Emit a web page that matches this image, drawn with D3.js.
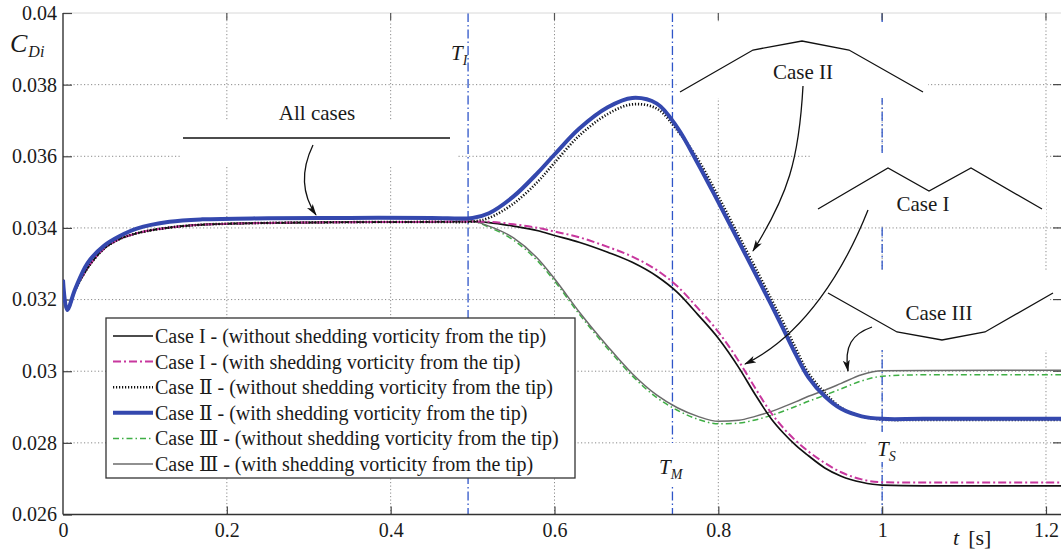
<!DOCTYPE html>
<html>
<head>
<meta charset="utf-8">
<script src="https://cdn.jsdelivr.net/npm/d3@7"></script>
<style>
  body { margin: 0; background: #fff; }
  svg { display: block; font-family: "Liberation Serif", "DejaVu Serif", serif; }
</style>
</head>
<body>
<svg id="chart"></svg>
<script>
// time grid [s] shared by every series
let tGrid = [0, 0.005, 0.015, 0.03, 0.05, 0.07, 0.09, 0.13, 0.17, 0.25, 0.35, 0.45, 0.5,
  0.52, 0.55, 0.58, 0.6, 0.63, 0.665, 0.695, 0.725, 0.75, 0.775, 0.8, 0.825, 0.845,
  0.865, 0.88, 0.895, 0.91, 0.93, 0.95, 0.975, 1.0, 1.05, 1.22]

// common start (all cases)
let startCommon = [0.03255, 0.03171, 0.03227, 0.03288, 0.03342, 0.03370, 0.03385, 0.03401,
  0.03409, 0.03414, 0.03416, 0.03417, 0.03418]
let startCase2 = [0.03255, 0.03171, 0.0323, 0.03302, 0.0335, 0.03378, 0.03398, 0.03417,
  0.03424, 0.03427, 0.03428, 0.03428, 0.03428]

let case1Without = startCommon.concat([0.03415, 0.03405, 0.03392, 0.03379, 0.03360, 0.03332,
  0.03304, 0.03265, 0.03220, 0.03158, 0.03092, 0.03010, 0.02935, 0.02866, 0.02826, 0.02792,
  0.02764, 0.02730, 0.02707, 0.02690, 0.02682, 0.02680, 0.02680])
let case1With = startCommon.concat([0.03417, 0.03410, 0.03400, 0.03390, 0.03374, 0.03347,
  0.03320, 0.03282, 0.03237, 0.03176, 0.03110, 0.03028, 0.02953, 0.02882, 0.02840, 0.02805,
  0.02776, 0.02744, 0.02718, 0.02698, 0.02690, 0.02689, 0.02689])
let case2Without = startCommon.concat([0.03428, 0.03468, 0.03530, 0.03582, 0.03657, 0.03718,
  0.03745, 0.03733, 0.03672, 0.03592, 0.03488, 0.03378, 0.03290, 0.03200, 0.03133, 0.03062,
  0.02995, 0.02940, 0.02898, 0.02874, 0.02865, 0.02864, 0.02864])
let case2With = startCase2.concat([0.03441, 0.03488, 0.03555, 0.03605, 0.03677, 0.03737,
  0.03763, 0.03747, 0.03680, 0.03580, 0.03472, 0.03362, 0.03273, 0.03184, 0.03115, 0.03045,
  0.02983, 0.02930, 0.02895, 0.02874, 0.02867, 0.02867, 0.02867])
let case3Without = startCommon.concat([0.03402, 0.03366, 0.03306, 0.03252, 0.03160, 0.03063,
  0.02987, 0.02926, 0.02891, 0.02866, 0.02853, 0.02855, 0.02864, 0.02877, 0.02889, 0.02902,
  0.02916, 0.02933, 0.02951, 0.02973, 0.02986, 0.02990, 0.02990])
let case3With = startCommon.concat([0.03405, 0.03372, 0.03313, 0.03258, 0.03166, 0.03069,
  0.02993, 0.02933, 0.02898, 0.02874, 0.02860, 0.02863, 0.02874, 0.02888, 0.02901, 0.02915,
  0.02930, 0.02947, 0.02966, 0.02990, 0.03001, 0.03002, 0.03003])

let legendLabels = [
  'Case I - (without shedding vorticity from the tip)',
  'Case I - (with shedding vorticity from the tip)',
  'Case Ⅱ - (without shedding vorticity from the tip)',
  'Case Ⅱ - (with shedding vorticity from the tip)',
  'Case Ⅲ - (without shedding vorticity from the tip)',
  'Case Ⅲ - (with shedding vorticity from the tip)'
]

let xTicks = [0, 0.2, 0.4, 0.6, 0.8, 1, 1.2]
let yTicks = [0.026, 0.028, 0.03, 0.032, 0.034, 0.036, 0.038, 0.04]

// T_I, T_M, T_S
let eventTimes = [0.4945, 0.744, 1.0]

let width = 1061
let height = 552
let pLeft = 63, pRight = 1064, pTop = 13, pBottom = 514.5

let svg = d3.select('#chart').attr('width', width).attr('height', height)

let xScale = d3.scaleLinear().domain([0, 1.222]).range([pLeft, pRight])
let yScale = d3.scaleLinear().domain([0.026, 0.04]).range([pBottom, pTop])

// grid
let grid = svg.append('g')
grid.selectAll('.gx').data(xTicks.slice(1)).enter().append('line')
  .attr('x1', d => xScale(d)).attr('x2', d => xScale(d))
  .attr('y1', pTop).attr('y2', pBottom)
  .attr('stroke', '#8a8a8a').attr('stroke-width', 1).attr('stroke-dasharray', '1.2,2.3')
grid.selectAll('.gy').data(yTicks.slice(1, -1)).enter().append('line')
  .attr('y1', d => yScale(d)).attr('y2', d => yScale(d))
  .attr('x1', pLeft).attr('x2', pRight)
  .attr('stroke', '#8a8a8a').attr('stroke-width', 1).attr('stroke-dasharray', '1.2,2.3')

// event lines
svg.selectAll('.tline').data(eventTimes).enter().append('line')
  .attr('x1', d => xScale(d)).attr('x2', d => xScale(d))
  .attr('y1', pTop).attr('y2', pBottom)
  .attr('stroke', '#2f55c8').attr('stroke-width', 1.3)
  .attr('stroke-dasharray', '9,3,1.5,3')

// white boxes behind annotations (cut the grid like the original)
let boxes = [[182, 120, 276, 45], [679, 22, 249, 76], [810, 153, 236, 72], [823, 272, 225, 78],
  [656, 443, 36, 44], [868, 432, 32, 30]]
svg.selectAll('.wbox').data(boxes).enter().append('rect')
  .attr('x', d => d[0]).attr('y', d => d[1]).attr('width', d => d[2]).attr('height', d => d[3])
  .attr('fill', '#fff')

// frame and axes
svg.append('line').attr('x1', pLeft).attr('x2', pRight).attr('y1', pTop).attr('y2', pTop)
  .attr('stroke', '#d8d8d8').attr('stroke-width', 1)
svg.append('line').attr('x1', pRight).attr('x2', pRight).attr('y1', pTop).attr('y2', pBottom)
  .attr('stroke', '#333').attr('stroke-width', 1)

let xAxis = d3.axisBottom(xScale).tickValues(xTicks).tickFormat(d3.format('~g'))
  .tickSizeInner(-8).tickSizeOuter(0).tickPadding(8)
let yAxis = d3.axisLeft(yScale).tickValues(yTicks).tickFormat(d3.format('~g'))
  .tickSizeInner(-9).tickSizeOuter(0).tickPadding(6)

let gx = svg.append('g').attr('transform', 'translate(0,' + pBottom + ')').call(xAxis)
let gy = svg.append('g').attr('transform', 'translate(' + pLeft + ',0)').call(yAxis)
;[gx, gy].forEach(g => {
  g.select('.domain').remove()
  g.selectAll('line').attr('stroke', '#444').attr('stroke-width', 1.2)
  g.selectAll('text').attr('fill', '#1a1a1a').style('font-size', '20px')
    .style('font-family', '"Liberation Serif", serif')
})
gx.selectAll('.tick').filter(d => d === 0).select('line').remove()
svg.append('line').attr('x1', pLeft).attr('x2', pRight).attr('y1', pBottom).attr('y2', pBottom)
  .attr('stroke', '#333').attr('stroke-width', 1.4)
svg.append('line').attr('x1', pLeft).attr('x2', pLeft).attr('y1', pTop).attr('y2', pBottom)
  .attr('stroke', '#333').attr('stroke-width', 1.4)

// top and right ticks
svg.selectAll('.tt').data(xTicks.slice(1)).enter().append('line')
  .attr('x1', d => xScale(d)).attr('x2', d => xScale(d)).attr('y1', pTop).attr('y2', pTop + 7)
  .attr('stroke', '#555').attr('stroke-width', 1.2)
svg.selectAll('.rt').data(yTicks.slice(1, -1)).enter().append('line')
  .attr('x1', pRight - 11).attr('x2', pRight).attr('y1', d => yScale(d)).attr('y2', d => yScale(d))
  .attr('stroke', '#444').attr('stroke-width', 1.2)

// curves
let series = [
  { v: case3Without, color: '#3fae45', w: 1.5, dash: '6,3,1.5,3' },
  { v: case3With, color: '#6b6b6b', w: 1.5, dash: null },
  { v: case1Without, color: '#111', w: 1.7, dash: null },
  { v: case1With, color: '#c8379e', w: 2, dash: '8,3,2,3' },
  { v: case2Without, color: '#111', w: 2.6, dash: '1.2,1.8', smooth: true },
  { v: case2With, color: '#3448ae', w: 4, dash: null, smooth: true }
]
let line = d3.line().x(d => xScale(d[0])).y(d => yScale(d[1])).curve(d3.curveMonotoneX)
let smoothLine = d3.line().x(d => xScale(d[0])).y(d => yScale(d[1])).curve(d3.curveCatmullRom.alpha(0.5))

svg.append('clipPath').attr('id', 'clip').append('rect')
  .attr('x', pLeft).attr('y', pTop).attr('width', pRight - pLeft).attr('height', pBottom - pTop)
let curves = svg.append('g').attr('clip-path', 'url(#clip)')
series.forEach(s => {
  curves.append('path')
    .datum(tGrid.map((t, i) => [t, s.v[i]]))
    .attr('d', s.smooth ? smoothLine : line)
    .attr('fill', 'none')
    .attr('stroke', s.color)
    .attr('stroke-width', s.w)
    .attr('stroke-dasharray', s.dash)
    .attr('stroke-linejoin', 'round')
})

// annotations
svg.append('defs').append('marker')
  .attr('id', 'arrow').attr('viewBox', '0 0 12 8').attr('refX', 11).attr('refY', 4)
  .attr('markerWidth', 12).attr('markerHeight', 8).attr('markerUnits', 'userSpaceOnUse')
  .attr('orient', 'auto')
  .append('path').attr('d', 'M0,0.5 L12,4 L0,7.5 L3,4 Z').attr('fill', '#111')

let ann = svg.append('g').attr('fill', 'none').attr('stroke', '#111').attr('stroke-width', 1.3)
ann.append('line').attr('x1', 183).attr('x2', 450).attr('y1', 138).attr('y2', 138)
let brackets = [
  [[680, 92], [753, 50], [802, 41], [849, 50], [923, 92]],
  [[818, 209], [888, 168], [929, 191], [971, 168], [1042, 209]],
  [[828, 293], [897, 332], [942, 340], [985, 332], [1053, 293]]
]
brackets.forEach(b => ann.append('path').attr('d', d3.line()(b)))
let arrows = [
  'M313,145 C300,172 303,196 316,215',
  'M803,86 C799,160 788,195 753,251',
  'M868,210 C845,268 805,335 745,364',
  'M872,327 C852,334 844,346 848,371'
]
arrows.forEach(a => ann.append('path').attr('d', a).attr('marker-end', 'url(#arrow)'))

let annText = [['All cases', 317, 120], ['Case II', 803, 79], ['Case I', 923, 211], ['Case III', 939, 320]]
svg.selectAll('.atext').data(annText).enter().append('text')
  .attr('x', d => d[1]).attr('y', d => d[2]).attr('text-anchor', 'middle')
  .style('font-size', '21px').attr('fill', '#1a1a1a').text(d => d[0])

// event labels T_I, T_M, T_S
let eventLabels = [['I', 451, 60], ['M', 659, 474], ['S', 877, 456]]
eventLabels.forEach(e => {
  let t = svg.append('text').attr('x', e[1]).attr('y', e[2]).style('font-size', '21px')
    .style('font-style', 'italic').attr('fill', '#1a1a1a')
  t.append('tspan').text('T')
  t.append('tspan').attr('dy', 5).style('font-size', '14px').text(e[0])
})

// axis titles
let yt = svg.append('text').attr('x', 10).attr('y', 52).style('font-style', 'italic').attr('fill', '#1a1a1a')
yt.append('tspan').style('font-size', '26px').text('C')
yt.append('tspan').attr('dy', 5).attr('dx', 1).style('font-size', '16px').text('Di')
let xt = svg.append('text').attr('x', 953).attr('y', 545).attr('fill', '#1a1a1a').style('font-size', '22px')
xt.append('tspan').style('font-style', 'italic').text('t')
xt.append('tspan').attr('dx', 9).text('[s]')

// legend
let lg = svg.append('g')
lg.append('rect').attr('x', 106).attr('y', 318).attr('width', 469).attr('height', 160)
  .attr('fill', '#fff').attr('stroke', '#333').attr('stroke-width', 1.3)
legendLabels.forEach((lab, i) => {
  let s = [series[2], series[3], series[4], series[5], series[0], series[1]][i]
  let cy = 336 + i * 25.6
  lg.append('line').attr('x1', 113).attr('x2', 153).attr('y1', cy).attr('y2', cy)
    .attr('stroke', s.color).attr('stroke-width', s.w).attr('stroke-dasharray', s.dash)
  lg.append('text').attr('x', 155).attr('y', cy + 7).style('font-size', '20px')
    .attr('fill', '#1a1a1a').text(lab)
})
</script>
</body>
</html>
